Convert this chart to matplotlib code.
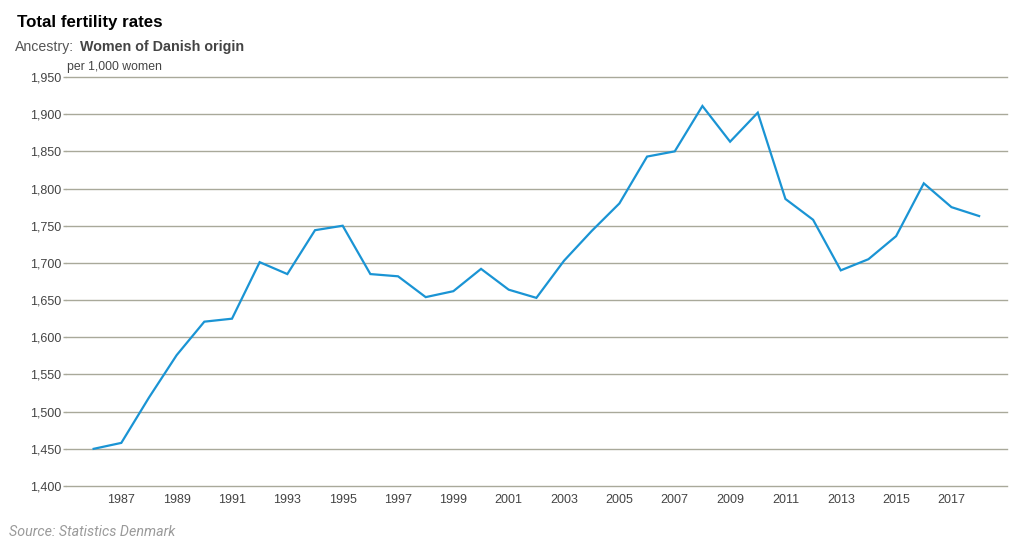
import matplotlib
matplotlib.use("Agg")
import matplotlib.pyplot as plt
from matplotlib.ticker import FuncFormatter

plt.rcParams['font.family'] = ['Liberation Sans', 'DejaVu Sans']

years = list(range(1986, 2019))
rates = [1450, 1458, 1519, 1576, 1621, 1625, 1701, 1685, 1744, 1750,
         1685, 1682, 1654, 1662, 1692, 1664, 1653, 1703, 1743, 1780,
         1843, 1850, 1911, 1863, 1902, 1786, 1758, 1690, 1705, 1736,
         1807, 1775, 1763]
xticks = list(range(1987, 2018, 2))
yticks = list(range(1400, 1951, 50))

line_col = "#1a94d4"
grid_col = "#a9a99a"
text_col = "#444444"

fig = plt.figure(figsize=(10.18, 5.48), dpi=100)
ax = fig.add_axes([0.0648, 0.1131, 0.9242, 0.7464])

ax.plot(years, rates, color=line_col, lw=1.6, solid_joinstyle="miter")

ax.set_xlim(1985.0, 2019.0)
ax.set_ylim(1400, 1950)
ax.set_xticks(xticks)
ax.set_yticks(yticks)
ax.yaxis.set_major_formatter(FuncFormatter(lambda v, p: f"{int(v):,}"))
ax.grid(axis="y", color=grid_col, lw=1.0)
for gl in ax.get_ygridlines():
    gl.set_clip_on(False)
ax.set_axisbelow(True)
for s in ax.spines.values():
    s.set_visible(False)
ax.tick_params(axis="x", length=0, pad=6, labelsize=9, labelcolor=text_col)
ax.tick_params(axis="y", length=2, width=1.0, color=grid_col, pad=1.5,
               labelsize=9, labelcolor=text_col)

fig.text(17 / 1018, 1 - 22 / 548, "Total fertility rates", fontsize=12.2,
         fontweight="bold", color="black", va="center")
fig.text(15 / 1018, 1 - 47 / 548, "Ancestry:", fontsize=10.2,
         color="#555555", va="center")
fig.text(80 / 1018, 1 - 47 / 548, "Women of Danish origin", fontsize=10.3,
         fontweight="bold", color="#444444", va="center")
fig.text(67 / 1018, 1 - 67 / 548, "per 1,000 women", fontsize=8.8,
         color=text_col, va="center")
fig.text(9 / 1018, 1 - 532 / 548, "Source: Statistics Denmark", fontsize=10.3,
         style="italic", color="#9a9a9a", va="center", family=["Roboto", "DejaVu Sans"])

fig.savefig("out.png", dpi=100)
